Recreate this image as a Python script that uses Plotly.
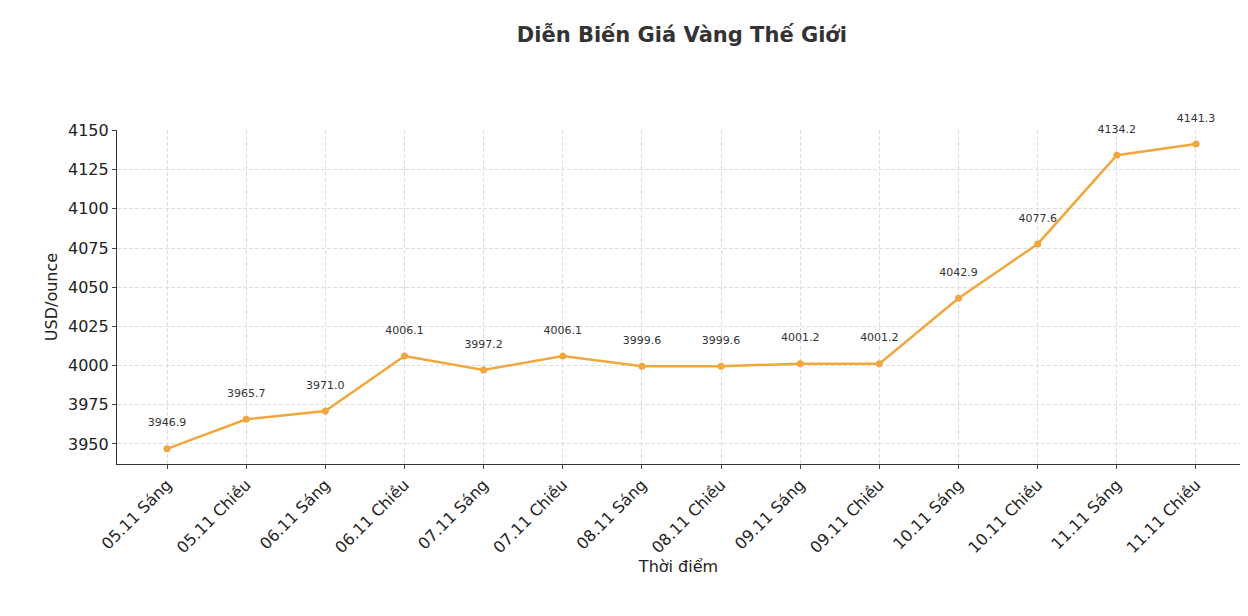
import plotly.graph_objects as go

labels = ["05.11 Sáng", "05.11 Chiều", "06.11 Sáng", "06.11 Chiều", "07.11 Sáng",
          "07.11 Chiều", "08.11 Sáng", "08.11 Chiều", "09.11 Sáng", "09.11 Chiều",
          "10.11 Sáng", "10.11 Chiều", "11.11 Sáng", "11.11 Chiều"]
prices = [3946.9, 3965.7, 3971.0, 4006.1, 3997.2, 4006.1, 3999.6, 3999.6,
          4001.2, 4001.2, 4042.9, 4077.6, 4134.2, 4141.3]

x = list(range(len(labels)))

fig = go.Figure(go.Scatter(
    x=x, y=prices, mode="lines+markers+text",
    line=dict(color="#F0A83E", width=2.5),
    marker=dict(color="#F0A83E", size=7),
    text=[f"{v:.1f}<br> " for v in prices], textposition="top center",
    textfont=dict(size=11, color="#333333"),
    cliponaxis=False,
))

fig.update_layout(
    width=1232, height=600,
    paper_bgcolor="white", plot_bgcolor="white",
    margin=dict(l=109, r=0, t=122, b=144),
    font=dict(family="DejaVu Sans", color="#222222"),
    title=dict(text="<b>Diễn Biến Giá Vàng Thế Giới</b>", x=0.547, xanchor="center",
               y=0.955, yanchor="middle", font=dict(size=21, color="#333333")),
    showlegend=False,
)
fig.update_xaxes(
    range=[-0.632, 13.556], tickmode="array", tickvals=x, ticktext=labels,
    tickangle=-45, tickfont=dict(size=16), showline=True, linecolor="#333333",
    linewidth=1.2, ticks="outside", ticklen=4, showgrid=True, gridcolor="#dedede",
    griddash="4px,2px", gridwidth=1, zeroline=False,
    title=dict(text="Thời điểm", font=dict(size=16), standoff=4),
)
fig.update_yaxes(
    range=[3937.2, 4150.3], tickvals=list(range(3950, 4151, 25)),
    tickfont=dict(size=16), showline=True, linecolor="#333333", linewidth=1.2,
    ticks="outside", ticklen=4, showgrid=True, gridcolor="#dedede",
    griddash="4px,2px", gridwidth=1, zeroline=False,
    title=dict(text="USD/ounce", font=dict(size=16), standoff=6),
)

fig.write_html("out.html")
